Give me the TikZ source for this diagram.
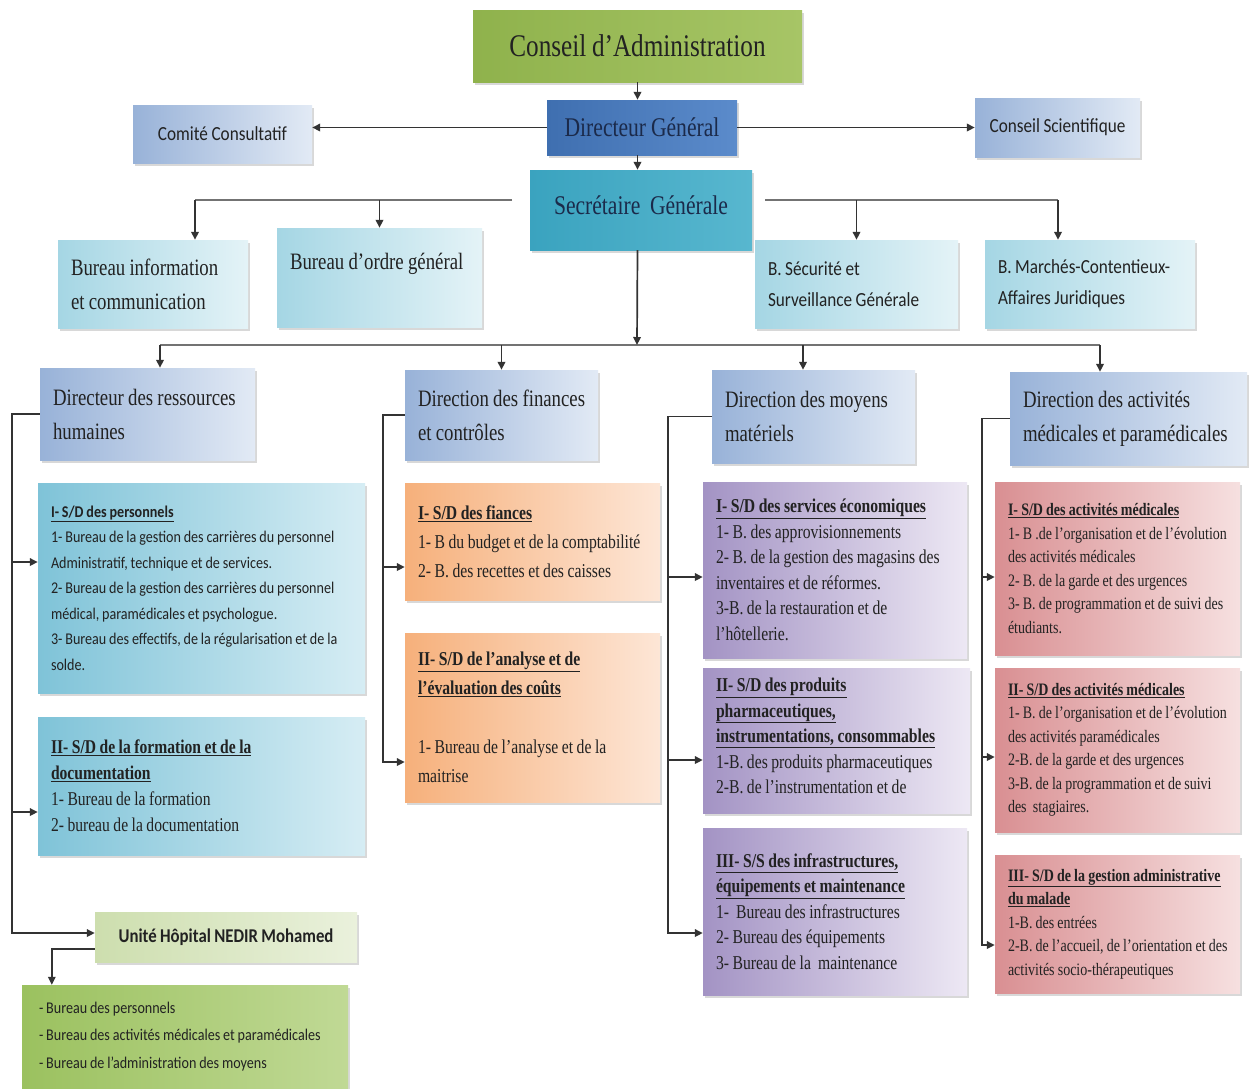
\documentclass[tikz,border=0pt]{standalone}
\usepackage{fontspec}
\setmainfont{Liberation Serif}
\newfontfamily\fser[FakeStretch=0.8,WordSpace=0.9]{Liberation Serif}
\newfontfamily\fsan[FakeStretch=0.86,WordSpace=0.9]{Carlito}
\usetikzlibrary{arrows.meta,shadows}

\definecolor{cg1}{HTML}{8FB24C}\definecolor{cg2}{HTML}{A7C566}
\definecolor{dgc1}{HTML}{3F6FB0}\definecolor{dgc2}{HTML}{5B8BCB}
\definecolor{lb1}{HTML}{98B2D8}\definecolor{lb2}{HTML}{E2EAF5}
\definecolor{sgc1}{HTML}{3AA3BF}\definecolor{sgc2}{HTML}{58B7CF}
\definecolor{tq1}{HTML}{A5D6E4}\definecolor{tq2}{HTML}{E4F3F7}
\definecolor{crh1}{HTML}{7FC3D8}\definecolor{crh2}{HTML}{D6EDF4}
\definecolor{or1}{HTML}{F6B07B}\definecolor{or2}{HTML}{FDE6D6}
\definecolor{pu1}{HTML}{A393C4}\definecolor{pu2}{HTML}{EDE8F4}
\definecolor{rdc1}{HTML}{D98F92}\definecolor{rdc2}{HTML}{F6E0E0}
\definecolor{un1}{HTML}{CDDEAE}\definecolor{un2}{HTML}{EAF1DC}
\definecolor{gl1}{HTML}{9BC15F}\definecolor{gl2}{HTML}{C0D995}
\definecolor{navytxt}{HTML}{1B2A4A}
\definecolor{txt}{HTML}{222222}

\newcommand\fntCons{\fser\fontsize{31.5}{34}\selectfont}
\newcommand\fntDG{\fser\fontsize{27}{30}\selectfont}
\newcommand\fntSanL{\fsan\fontsize{20}{31}\selectfont}
\newcommand\fntBur{\fser\fontsize{23.5}{34}\selectfont}
\newcommand\fntDir{\fser\fontsize{23.5}{34}\selectfont}
\newcommand\fntSmS{\fsan\fontsize{16.4}{25.5}\selectfont}
\newcommand\fntMid{\fser\fontsize{19.5}{26}\selectfont}
\newcommand\fntUn{\fsan\fontsize{19.5}{22}\selectfont}
\newcommand\fntGl{\fsan\fontsize{16.4}{27.5}\selectfont}
\newcommand\fntF{\fser\fontsize{19.6}{29}\selectfont}
\newcommand\fntP{\fser\fontsize{19.6}{25.5}\selectfont}
\newcommand\fntR{\fser\fontsize{17.5}{23.5}\selectfont}

% box with left-aligned text: name, box style, text style, x1, y1, x2, y2, text
\newcommand\obox[8]{%
  \pgfmathsetmacro\obw{#6-#4}\pgfmathsetmacro\obh{#7-#5}%
  \pgfmathsetmacro\obcx{(#4+#6)/2}\pgfmathsetmacro\obcy{(#5+#7)/2}%
  \node[bx,#2, minimum width=\obw pt, minimum height=\obh pt] (#1) at (\obcx,\obcy) {};
  \node[tx,#3, anchor=west] (#1t) at ([xshift=13pt]#1.west) {#8};}
% box with centred text
\newcommand\cbox[8]{%
  \pgfmathsetmacro\obw{#6-#4}\pgfmathsetmacro\obh{#7-#5}%
  \pgfmathsetmacro\obcx{(#4+#6)/2}\pgfmathsetmacro\obcy{(#5+#7)/2}%
  \node[bx,#2, minimum width=\obw pt, minimum height=\obh pt] (#1) at (\obcx,\obcy) {};
  \node[tx,#3, align=center] (#1t) at (#1.center) {#8};}

\begin{document}
\begin{tikzpicture}[x=1pt,y=-1pt,
  bx/.style={inner sep=0pt,
    drop shadow={opacity=.3,shadow xshift=1.5pt,shadow yshift=-2.5pt}},
  tx/.style={inner sep=0pt, align=left, text=txt},
  greenbox/.style={left color=cg1, right color=cg2},
  dgbox/.style={left color=dgc1, right color=dgc2},
  lbbox/.style={left color=lb1, right color=lb2},
  sgbox/.style={left color=sgc1, right color=sgc2},
  tqbox/.style={left color=tq1, right color=tq2},
  rhbox/.style={left color=crh1, right color=crh2},
  orbox/.style={left color=or1, right color=or2},
  pubox/.style={left color=pu1, right color=pu2},
  rdbox/.style={left color=rdc1, right color=rdc2},
  unbox/.style={left color=un1, right color=un2},
  glbox/.style={left color=gl1, right color=gl2},
  arr/.style={line width=1.7pt, draw=black!80, line join=miter, -{Triangle[length=8pt,width=7.5pt]}},
  bus/.style={line width=2.6pt, draw=black!55}
]
\fill[white] (0,0) rectangle (1250,1088);
\useasboundingbox (0,0) rectangle (1250,1088);

% ---- top level
\cbox{cons}{greenbox}{font=\fntCons}{473}{10}{802}{82}{Conseil d’Administration}
\cbox{dg}{dgbox}{font=\fntDG,text=navytxt}{547}{100}{737}{155}{Directeur Général}
\cbox{cc}{lbbox}{font=\fntSanL}{133}{105}{312}{163}{Comité Consultatif}
\cbox{cs}{lbbox}{font=\fntSanL}{975}{98}{1140}{157}{Conseil Scientifique}
\cbox{sg}{sgbox}{font=\fntDG,text=navytxt,yshift=5pt}{530}{170}{752}{250}{Secrétaire\ \ Générale}

\obox{bi}{tqbox}{font=\fntBur}{58}{240}{248}{328}{Bureau information\\et communication}
\obox{bo}{tqbox}{font=\fntBur,yshift=14pt}{277}{228}{482}{327}{Bureau d’ordre général}
\obox{bs}{tqbox}{font=\fntSanL}{755}{240}{958}{328}{B. Sécurité et\\Surveillance Générale}
\obox{bm}{tqbox}{font=\fntSanL}{985}{240}{1195}{328}{B. Marchés-Contentieux-\\Affaires Juridiques}

% ---- directors
\obox{drh}{lbbox}{font=\fntDir}{40}{368}{255}{460}{Directeur des ressources\\humaines}
\obox{df}{lbbox}{font=\fntDir}{405}{370}{598}{460}{Direction des finances\\et contrôles}
\obox{dmm}{lbbox}{font=\fntDir}{712}{370}{915}{463}{Direction des moyens\\matériels}
\obox{dam}{lbbox}{font=\fntDir}{1010}{372}{1247}{465}{Direction des activités\\médicales et paramédicales}

% ---- RH column
\obox{sdp}{rhbox}{font=\fntSmS}{38}{483}{365}{693}{\textbf{\underline{I- S/D des personnels}}\\1- Bureau de la gestion des carrières du personnel\\Administratif, technique et de services.\\2- Bureau de la gestion des carrières du personnel\\médical, paramédicales et psychologue.\\3- Bureau des effectifs, de la régularisation et de la\\solde.}
\obox{sdf}{rhbox}{font=\fntMid}{38}{717}{365}{855}{\textbf{\underline{II- S/D de la formation et de la}}\\\textbf{\underline{documentation}}\\1- Bureau de la formation\\2- bureau de la documentation}
\cbox{un}{unbox}{font=\fntUn}{95}{912}{357}{962}{\textbf{Unité Hôpital NEDIR Mohamed}}
\obox{gl}{glbox}{font=\fntGl,xshift=4pt,yshift=1pt}{22}{985}{348}{1090}{- Bureau des personnels\\- Bureau des activités médicales et paramédicales\\- Bureau de l’administration des moyens}

% ---- finance column
\obox{fa}{orbox}{font=\fntF}{405}{483}{660}{600}{\textbf{\underline{I- S/D des fiances}}\\1- B du budget et de la comptabilité\\2- B. des recettes et des caisses}
\obox{fb}{orbox}{font=\fntF}{405}{633}{660}{802}{\textbf{\underline{II- S/D de l’analyse et de}}\\\textbf{\underline{l’évaluation des coûts}}\\[30pt]1- Bureau de l’analyse et de la\\maitrise}

% ---- moyens column
\obox{pa}{pubox}{font=\fntP}{703}{482}{967}{658}{\textbf{\underline{I- S/D des services économiques}}\\1- B. des approvisionnements\\2- B. de la gestion des magasins des\\inventaires et de réformes.\\3-B. de la restauration et de\\l’hôtellerie.}
\node[bx,pubox, minimum width=267pt, minimum height=145pt] (pb) at (836.5,740.5) {};
\begin{scope}
\clip ([yshift=12pt]pb.south west) rectangle (pb.north east);
\node[tx, anchor=north west, font=\fntP] (pbt) at ([xshift=13pt,yshift=-10pt]pb.north west) {\textbf{\underline{II- S/D des produits}}\\\textbf{\underline{pharmaceutiques,}}\\\textbf{\underline{instrumentations, consommables}}\\1-B. des produits pharmaceutiques\\2-B. de l’instrumentation et de};
\end{scope}
\obox{pc}{pubox}{font=\fntP}{703}{828}{967}{995}{\textbf{\underline{III- S/S des infrastructures,}}\\\textbf{\underline{équipements et maintenance}}\\1-\ \ Bureau des infrastructures\\2- Bureau des équipements\\3- Bureau de la\ \ maintenance}

% ---- activites column
\obox{ra}{rdbox}{font=\fntR}{995}{482}{1240}{655}{\textbf{\underline{I- S/D des activités médicales}}\\1- B .de l’organisation et de l’évolution\\des activités médicales\\2- B. de la garde et des urgences\\3- B. de programmation et de suivi des\\étudiants.}
\obox{rb}{rdbox}{font=\fntR}{995}{668}{1240}{832}{\textbf{\underline{II- S/D des activités médicales}}\\1- B. de l’organisation et de l’évolution\\des activités paramédicales\\2-B. de la garde et des urgences\\3-B. de la programmation et de suivi\\des\ \ stagiaires.}
\obox{rc}{rdbox}{font=\fntR}{995}{855}{1240}{993}{\textbf{\underline{III- S/D de la gestion administrative}}\\\textbf{\underline{du malade}}\\1-B. des entrées\\2-B. de l’accueil, de l’orientation et des\\activités socio-thérapeutiques}

% ---- connectors, top
\draw[arr] (cons.south) -- (cons.south |- dg.north);
\draw[arr] (dg.south -| cons.south) -- (cons.south |- sg.north);
\draw[arr] (dg.west) -- (dg.west -| cc.east);
\draw[arr] (dg.east) -- (dg.east -| cs.west);

\coordinate (sl) at (512,200);
\coordinate (sr) at (765,200);
\coordinate (bix) at (195,200);
\coordinate (bmx) at (1058,200);
\draw[bus] (sl) -- (bix);
\draw[bus] (sr) -- (bmx);
\draw[arr] (bix) -- (bix |- bi.north);
\draw[arr] (sl -| bo.north) -- (bo.north);
\draw[arr] (sr -| bs.north) -- (bs.north);
\draw[arr] (bmx) -- (bmx |- bm.north);

\coordinate (busc) at (637,345);
\coordinate (bL) at (160,345);
\coordinate (bM) at (803,345);
\coordinate (bR) at (1100,345);
\draw[bus] (bL) -- (bR);
\draw[arr] (sg.south -| cons.south) -- (busc);
\draw[arr] (bL) -- (bL |- drh.north);
\draw[arr] (busc -| df.north) -- (df.north);
\draw[arr] (bM) -- (bM |- dmm.north);
\draw[arr] (bR) -- (bR |- dam.north);

% ---- RH spine
\coordinate (rh1) at (12,562);
\coordinate (rh2) at (12,812);
\coordinate (rh3) at (12,933);
\draw[arr] (drh.west) -- (drh.west -| rh1) -- (rh3) -- (rh3 -| un.west);
\draw[arr] (rh1) -- (rh1 -| sdp.west);
\draw[arr] (rh2) -- (rh2 -| sdf.west);
\draw[arr] ([yshift=-12pt]un.west) -| ([xshift=30pt]gl.north west);

% ---- finance spine
\coordinate (fs1) at (383,567);
\coordinate (fs2) at (383,762);
\draw[arr] (df.west) -- (df.west -| fs1) -- (fs2) -- (fs2 -| fb.west);
\draw[arr] (fs1) -- (fs1 -| fa.west);

% ---- moyens spine
\coordinate (ms1) at (668,577);
\coordinate (ms2) at (668,760);
\coordinate (ms3) at (668,933);
\draw[arr] (dmm.west) -- (dmm.west -| ms1) -- (ms3) -- (ms3 -| pc.west);
\draw[arr] (ms1) -- (ms1 -| pa.west);
\draw[arr] (ms2) -- (ms2 -| pb.west);

% ---- activites spine
\coordinate (as1) at (982,577);
\coordinate (as2) at (982,757);
\coordinate (as3) at (982,945);
\draw[arr] (dam.west) -- (dam.west -| as1) -- (as3) -- (as3 -| rc.west);
\draw[arr] (as1) -- (as1 -| ra.west);
\draw[arr] (as2) -- (as2 -| rb.west);
\end{tikzpicture}
\end{document}
